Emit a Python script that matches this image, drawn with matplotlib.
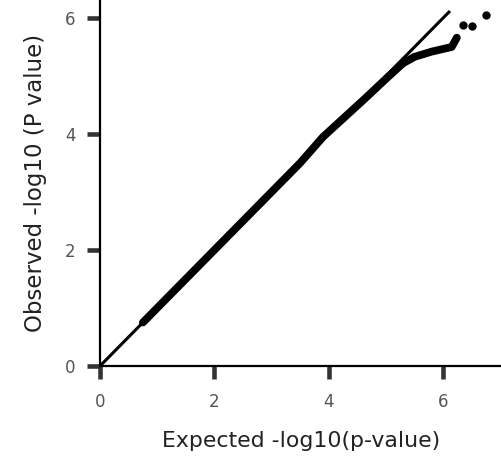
import matplotlib
matplotlib.use("Agg")
import matplotlib.pyplot as plt

# observed vs expected -log10(p)
expected = [0.75, 1.0, 1.5, 2.0, 2.5, 3.0, 3.5, 3.9, 4.2, 4.6, 5.0, 5.3, 5.5, 5.8, 6.15, 6.24]
observed = [0.75, 1.0, 1.5, 2.0, 2.5, 3.0, 3.5, 3.95, 4.22, 4.58, 4.95, 5.22, 5.33, 5.42, 5.5, 5.66]
tail_expected = [6.35, 6.50, 6.75]
tail_observed = [5.88, 5.86, 6.05]

null_line = [0, 6.12]
ticks = [0, 2, 4, 6]

fig = plt.figure(figsize=(5.02, 4.57), dpi=100)
ax = fig.add_axes([100 / 502, 91 / 457, 402 / 502, 366 / 457])

ax.plot(null_line, null_line, color="black", lw=2.2, solid_capstyle="butt")
ax.plot(expected, observed, color="black", lw=5.6, solid_capstyle="round",
        solid_joinstyle="round")
ax.scatter(tail_expected, tail_observed, s=36, color="black", lw=0)

ax.set_xlim(0, 7.03)
ax.set_ylim(0, 6.31)
ax.set_xticks(ticks)
ax.set_yticks(ticks)

for side in ["top", "right"]:
    ax.spines[side].set_visible(False)
for side in ["left", "bottom"]:
    ax.spines[side].set_linewidth(1.6)
    ax.spines[side].set_color("black")

ax.tick_params(direction="out", length=9.5, width=3.3, color="#333333",
               labelcolor="#555555", labelsize=12)
ax.tick_params(axis="x", pad=10)
ax.tick_params(axis="y", pad=8)

ax.set_xlabel("Expected -log10(p-value)", fontsize=15.8, color="#222222", labelpad=14)
ax.set_ylabel("Observed -log10 (P value)", fontsize=16.5, color="#222222", labelpad=13)

fig.savefig("out.png", dpi=100)
